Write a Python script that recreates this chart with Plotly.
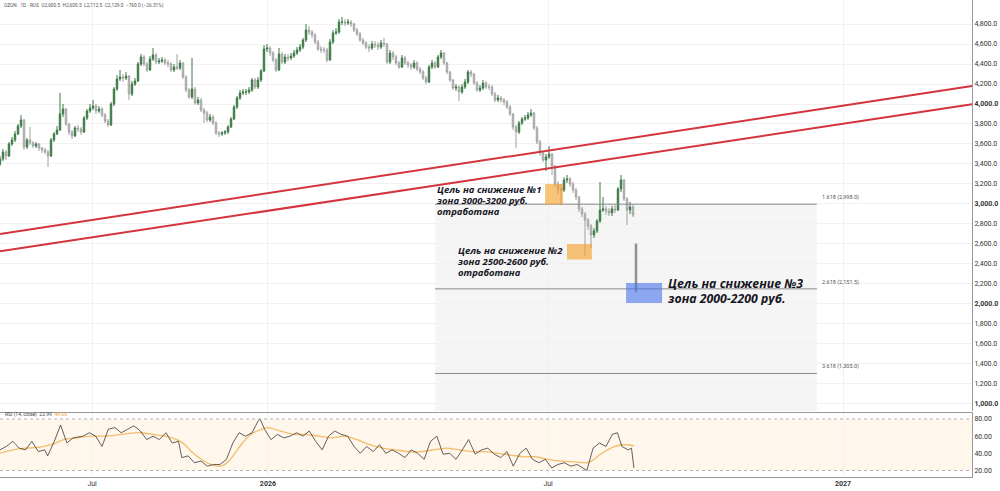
import plotly.graph_objects as go

# ---------------- data ----------------
first_open = 3400
closes = [3450, 3520, 3480, 3600, 3640, 3700, 3780, 3840, 3570, 3640,
          3610, 3580, 3600, 3560, 3540, 3520, 3480, 3640, 3700, 3740,
          3900, 3950, 3800, 3720, 3680, 3760, 3750, 3720, 3860, 3930,
          3960, 3980, 3930, 3950, 3890, 3830, 3790, 4000, 4150, 4250,
          4270, 4260, 4280, 4100, 4200, 4230, 4400, 4470, 4400, 4340,
          4450, 4490, 4420, 4430, 4440, 4410, 4400, 4340, 4370, 4360,
          4410, 4270, 4140, 4070, 4150, 4010, 4040, 3940, 3910, 3840,
          3870, 3810, 3710, 3700, 3710, 3720, 3770, 3850, 3970, 4060,
          4110, 4120, 4120, 4140, 4240, 4170, 4240, 4330, 4550, 4560,
          4510, 4440, 4340, 4500, 4420, 4470, 4460, 4480, 4510, 4540,
          4570, 4640, 4740, 4720, 4690, 4620, 4550, 4540, 4540, 4440,
          4620, 4710, 4720, 4820, 4820, 4810, 4820, 4800, 4740, 4700,
          4640, 4610, 4570, 4560, 4600, 4590, 4570, 4610, 4600, 4420,
          4510, 4470, 4410, 4370, 4460, 4410, 4390, 4370, 4410, 4350,
          4320, 4260, 4220, 4370, 4410, 4370, 4470, 4510, 4410, 4320,
          4240, 4160, 4170, 4120, 4170, 4220, 4320, 4300, 4210, 4140,
          4160, 4210, 4170, 4170, 4100, 4040, 4060, 4040, 4020, 3970,
          3900, 3770, 3720, 3810, 3850, 3860, 3890, 3910, 3760, 3620,
          3510, 3440, 3470, 3500, 3380, 3200, 3150, 3140, 3240, 3250,
          3200, 3140, 3070, 2950, 2900, 2840, 2780, 2690, 2730, 2830,
          2940, 2950, 2930, 2910, 2950, 2940, 3150, 3240, 3050, 2940,
          2970, 2889]
highs = [3480, 3550, 3540, 3620, 3670, 3730, 3800, 3890, 3850, 3660,
         3770, 3630, 3620, 3610, 3570, 3560, 3540, 3660, 3720, 3780,
         4110, 4000, 3960, 3810, 3740, 3780, 3790, 3770, 3880, 3950,
         4000, 4040, 4000, 3980, 3970, 3910, 3850, 4020, 4170, 4290,
         4340, 4300, 4320, 4290, 4230, 4260, 4420, 4500, 4490, 4420,
         4480, 4560, 4510, 4460, 4470, 4460, 4440, 4420, 4400, 4500,
         4440, 4420, 4290, 4160, 4460, 4170, 4070, 4060, 3960, 3930,
         3900, 3890, 3830, 3730, 3730, 3740, 3790, 3870, 3990, 4080,
         4140, 4150, 4150, 4170, 4260, 4260, 4270, 4350, 4590, 4600,
         4580, 4530, 4460, 4560, 4520, 4500, 4500, 4510, 4540, 4570,
         4600, 4660, 4800, 4780, 4740, 4710, 4640, 4580, 4570, 4560,
         4650, 4740, 4760, 4850, 4870, 4850, 4850, 4840, 4810, 4760,
         4720, 4660, 4630, 4600, 4630, 4630, 4620, 4640, 4660, 4610,
         4540, 4530, 4490, 4430, 4490, 4480, 4430, 4410, 4440, 4430,
         4370, 4340, 4280, 4390, 4440, 4430, 4490, 4540, 4520, 4420,
         4330, 4250, 4200, 4190, 4200, 4250, 4340, 4340, 4310, 4230,
         4190, 4240, 4230, 4200, 4190, 4120, 4090, 4080, 4060, 4040,
         3990, 3910, 3790, 3830, 3870, 3890, 3920, 3950, 3920, 3780,
         3640, 3530, 3500, 3580, 3510, 3390, 3230, 3200, 3270, 3290,
         3270, 3220, 3160, 3080, 2970, 2920, 2860, 2800, 2760, 2850,
         3220, 3070, 2980, 2960, 2980, 2990, 3170, 3290, 3250, 3070,
         3020, 2990]
lows = [3380, 3430, 3440, 3470, 3580, 3620, 3690, 3760, 3540, 3550,
        3590, 3560, 3560, 3530, 3510, 3500, 3370, 3470, 3620, 3690,
        3730, 3870, 3780, 3690, 3650, 3670, 3720, 3690, 3710, 3840,
        3910, 3940, 3900, 3910, 3870, 3810, 3770, 3780, 3980, 4130,
        4230, 4220, 4240, 4040, 4080, 4180, 4220, 4380, 4380, 4320,
        4330, 4430, 4400, 4400, 4410, 4390, 4370, 4320, 4320, 4340,
        4340, 4250, 4120, 4050, 4050, 3990, 3990, 3920, 3810, 3820,
        3820, 3790, 3690, 3670, 3680, 3690, 3700, 3760, 3840, 3950,
        4040, 4090, 4090, 4100, 4120, 4150, 4150, 4220, 4320, 4520,
        4480, 4420, 4320, 4330, 4400, 4400, 4430, 4440, 4460, 4490,
        4520, 4550, 4620, 4690, 4660, 4600, 4530, 4510, 4510, 4420,
        4430, 4600, 4690, 4700, 4790, 4780, 4790, 4770, 4720, 4680,
        4620, 4590, 4550, 4520, 4540, 4560, 4540, 4550, 4570, 4400,
        4400, 4440, 4390, 4350, 4360, 4390, 4360, 4340, 4350, 4330,
        4300, 4240, 4200, 4210, 4350, 4350, 4360, 4450, 4390, 4300,
        4220, 4140, 4130, 4030, 4100, 4150, 4200, 4270, 4190, 4120,
        4120, 4140, 4150, 4140, 4080, 4020, 4020, 4010, 3990, 3950,
        3880, 3740, 3560, 3700, 3790, 3830, 3840, 3870, 3740, 3600,
        3480, 3420, 3330, 3450, 3290, 3170, 3100, 2990, 3120, 3210,
        3170, 3110, 3040, 2920, 2870, 2480, 2740, 2560, 2660, 2710,
        2810, 2920, 2890, 2880, 2880, 2910, 2930, 3120, 3030, 2790,
        2900, 2870]
last_open, last_high, last_low, last_close = 2600.5, 2600.5, 2112.5, 2129.0

rsi_idx = [0.0, 2.1, 4.3, 6.4, 8.5, 10.6, 12.8, 14.9, 15.9, 18.1,
           20.2, 22.3, 24.4, 27.6, 29.8, 31.9, 34.0, 36.1, 38.3, 40.4,
           42.5, 44.6, 46.8, 48.9, 51.0, 53.1, 55.3, 57.4, 59.5, 60.6,
           62.7, 64.8, 67.0, 69.1, 71.2, 73.3, 75.5, 77.6, 79.7, 81.8,
           84.0, 86.1, 86.7, 88.2, 90.3, 92.5, 94.6, 96.7, 98.9, 101.0,
           103.1, 105.2, 107.4, 109.5, 111.6, 113.7, 115.9, 118.0, 120.1, 122.2,
           124.4, 126.5, 128.6, 130.7, 132.9, 135.0, 137.1, 139.2, 141.4, 143.5,
           145.6, 147.7, 149.9, 152.0, 154.1, 156.2, 158.4, 160.5, 162.6, 164.8,
           166.9, 169.0, 171.1, 173.3, 175.4, 177.5, 179.6, 181.8, 183.9, 186.0,
           188.1, 190.3, 192.4, 194.5, 195.6, 197.7, 199.8, 202.0, 204.1, 205.8,
           207.3, 209.4, 210.5, 211.3]
rsi_vals = [44, 48, 54, 46, 44, 54, 42, 44, 37, 54,
            73, 52, 58, 60, 64, 60, 48, 68, 70, 64,
            68, 72, 66, 56, 60, 56, 64, 52, 54, 35,
            37, 29, 31, 25, 27, 27, 33, 52, 64, 60,
            64, 78, 80, 68, 56, 62, 58, 60, 64, 60,
            66, 54, 44, 60, 66, 62, 60, 48, 40, 48,
            42, 50, 40, 44, 40, 35, 44, 40, 33, 54,
            60, 39, 40, 33, 44, 56, 39, 44, 46, 39,
            35, 42, 25, 40, 46, 33, 29, 33, 23, 27,
            29, 25, 27, 23, 20, 46, 52, 48, 62, 64,
            48, 44, 46, 22.99]
ma_idx = [0.0, 4.3, 8.5, 12.8, 17.0, 21.3, 25.5, 29.8, 34.0, 38.3,
          42.5, 46.8, 51.0, 55.3, 59.5, 61.6, 63.8, 65.9, 68.0, 70.2,
          72.3, 74.4, 76.5, 78.7, 80.8, 82.9, 85.0, 87.2, 89.3, 93.5,
          97.8, 102.0, 106.3, 110.5, 114.8, 119.0, 123.3, 127.6, 131.8, 136.1,
          140.3, 144.6, 148.8, 153.1, 157.3, 161.6, 165.8, 170.1, 174.3, 178.6,
          182.8, 187.1, 191.3, 195.6, 197.7, 199.8, 202.0, 204.1, 207.3, 209.4,
          211.3]
ma_vals = [40, 44, 46, 47, 50, 56, 58, 60, 60, 61,
           63, 64, 62, 60, 55, 50, 42, 36, 31, 27,
           25, 26, 32, 42, 52, 60, 65, 68, 70, 66,
           62, 62, 60, 58, 60, 56, 50, 46, 44, 42,
           42, 44, 46, 44, 42, 42, 40, 38, 36, 36,
           33, 31, 30, 29, 32, 38, 43, 47, 50, 50,
           48.66]

price_ticks = list(range(1000, 4801, 200))
bold_prices = [1000, 2000, 3000, 4000]
rsi_ticks = [20, 40, 60, 80]
time_tick_idx = [30.7, 89.3, 182.7, 281.0]
time_tick_text = ["Jul", "<b>2026</b>", "Jul", "<b>2027</b>"]

fib_levels = [2998.0, 2151.5, 1305.0]
fib_names = ["1.618 (2,998.0)", "2.618 (2,151.5)", "3.618 (1,305.0)"]

zones = [  # (x0, x1, y_low, y_high, colour)
    (181.7, 187.7, 2995, 3200, "rgba(245,160,40,0.62)"),
    (189.0, 197.3, 2445, 2600, "rgba(245,160,40,0.62)"),
    (208.7, 220.7, 2010, 2210, "rgba(70,115,235,0.6)"),
]
# (lines, x, y of each line centre, font size, line box height px)
notes = [
    (["Цель на снижение №1", "зона 3000-3200 руб.", "отработана"], 145.3, [3140, 3030, 2920], 9.5, 11),
    (["Цель на снижение №2", "зона 2500-2600 руб.", "отработана"], 152.3, [2535, 2425, 2315], 9.5, 11),
    (["Цель на снижение №3", "зона 2000-2200 руб."], 222.3, [2205, 2055], 12.3, 14),
]

n = len(closes)
idx = list(range(n))
opens = [first_open] + closes[:-1]

fig = go.Figure()

fig.add_trace(go.Candlestick(
    x=idx, open=opens, high=highs, low=lows, close=closes,
    increasing=dict(line=dict(color="#3c7a46", width=1), fillcolor="#3c7a46"),
    decreasing=dict(line=dict(color="#a0a0a0", width=1), fillcolor="#dadada"),
    whiskerwidth=0, showlegend=False, xaxis="x", yaxis="y", hoverinfo="skip"))
fig.add_trace(go.Candlestick(
    x=[n], open=[last_open], high=[last_high], low=[last_low], close=[last_close],
    increasing=dict(line=dict(color="#8a8a8a", width=1), fillcolor="#8a8a8a"),
    decreasing=dict(line=dict(color="#8a8a8a", width=1), fillcolor="#8a8a8a"),
    whiskerwidth=0, showlegend=False, xaxis="x", yaxis="y", hoverinfo="skip"))

fig.add_trace(go.Scatter(x=ma_idx, y=ma_vals, mode="lines",
                         line=dict(color="#f2bd6b", width=1.3, shape="spline", smoothing=0.6),
                         showlegend=False, xaxis="x2", yaxis="y2", hoverinfo="skip"))
fig.add_trace(go.Scatter(x=rsi_idx, y=rsi_vals, mode="lines",
                         line=dict(color="#3a3a3a", width=0.8),
                         showlegend=False, xaxis="x2", yaxis="y2", hoverinfo="skip"))

shapes = []
shapes.append(dict(type="rect", xref="x", yref="y", x0=145, x1=272.3, y0=900, y1=fib_levels[0],
                   fillcolor="#f5f5f5", line=dict(width=0), layer="below"))
for lv in fib_levels:
    shapes.append(dict(type="line", xref="x", yref="y", x0=145, x1=272.3, y0=lv, y1=lv,
                       line=dict(color="#8c8c8c", width=1)))
shapes.append(dict(type="line", xref="paper", yref="y", x0=0, x1=1, y0=2700, y1=4180,
                   line=dict(color="#d4343c", width=2)))
shapes.append(dict(type="line", xref="paper", yref="y", x0=0, x1=1, y0=2527, y1=3997,
                   line=dict(color="#d4343c", width=2)))
for x0, x1, ylo, yhi, col in zones:
    shapes.append(dict(type="rect", xref="x", yref="y", x0=x0, x1=x1, y0=ylo, y1=yhi,
                       fillcolor=col, line=dict(width=0), layer="above"))
shapes.append(dict(type="rect", xref="paper", yref="y2", x0=0, x1=1, y0=20, y1=80,
                   fillcolor="rgba(255,160,40,0.09)", line=dict(width=0), layer="below"))
for lv in (80, 20):
    shapes.append(dict(type="line", xref="paper", yref="y2", x0=0, x1=1, y0=lv, y1=lv,
                       line=dict(color="#b0b0b0", width=1, dash="dot")))

annotations = []
for lines, x, ys, size, hgt in notes:
    for text, y in zip(lines, ys):
        annotations.append(dict(text=text, x=x, y=y, xref="x", yref="y", xanchor="left",
                                yanchor="middle", align="left", showarrow=False,
                                height=hgt, borderpad=0,
                                font=dict(family="Open Sans", size=size, color="#15151f",
                                          weight="bold", style="italic")))
for lv, name in zip(fib_levels, fib_names):
    annotations.append(dict(text=name, x=273.3, y=lv, xref="x", yref="y", xanchor="left",
                            yanchor="bottom", yshift=1, showarrow=False,
                            font=dict(family="Roboto", size=5.5, color="#555555")))
annotations.append(dict(
    text="OZON · 1D · RUS  O2,600.5  H2,600.5  L2,112.5  C2,129.0  −760.0 (−26.31%)",
    x=0.002, y=0.9875, xref="paper", yref="paper", xanchor="left", yanchor="middle",
    showarrow=False, font=dict(family="Roboto", size=4.8, color="#555555")))
annotations.append(dict(
    text="RSI (14, close)  22.99  <span style='color:#e8a040'>48.66</span>",
    x=0.003, y=85.5, xref="paper", yref="y2", xanchor="left", yanchor="middle",
    showarrow=False, font=dict(family="Roboto", size=5, color="#444444")))

price_text = [("<b>%s</b>" if p in bold_prices else "%s") % f"{p:,.1f}" for p in price_ticks]

grid = "#f1f1f1"
fig.update_layout(
    width=1000, height=491,
    margin=dict(l=0, r=28, t=0, b=14),
    paper_bgcolor="white", plot_bgcolor="white",
    font=dict(family="Roboto", size=7, color="#333333"),
    shapes=shapes, annotations=annotations,
    xaxis=dict(domain=[0, 1], range=[0, 324], anchor="y", showticklabels=False,
               tickvals=time_tick_idx, showgrid=True, gridcolor=grid, gridwidth=1,
               rangeslider=dict(visible=False), zeroline=False, showline=False,
               automargin=False),
    yaxis=dict(domain=[0.1384, 1], range=[930, 5040], side="right", anchor="x",
               tickvals=price_ticks, ticktext=price_text, showgrid=True, gridcolor=grid,
               zeroline=False, showline=True, linecolor="#9a9a9a", linewidth=1,
               ticks="", ticklen=0, automargin=False,
               tickfont=dict(size=7, color="#333333")),
    xaxis2=dict(domain=[0, 1], range=[0, 324], anchor="y2", tickvals=time_tick_idx,
                ticktext=time_tick_text, showgrid=True, gridcolor=grid, zeroline=False,
                showline=True, mirror=True, linecolor="#9a9a9a", linewidth=1, ticks="",
                ticklen=0, automargin=False, tickfont=dict(size=7, color="#333333")),
    yaxis2=dict(domain=[0, 0.1342], range=[12.4, 87], side="right", anchor="x2",
                tickvals=rsi_ticks, ticktext=[f"{v:.2f}" for v in rsi_ticks],
                showgrid=False, zeroline=False, showline=True, linecolor="#9a9a9a",
                linewidth=1, ticks="", ticklen=0, automargin=False,
                tickfont=dict(size=7, color="#333333")),
)

fig.write_html("out.html", config={"displayModeBar": False},
               post_script="document.body.style.margin='0';")
